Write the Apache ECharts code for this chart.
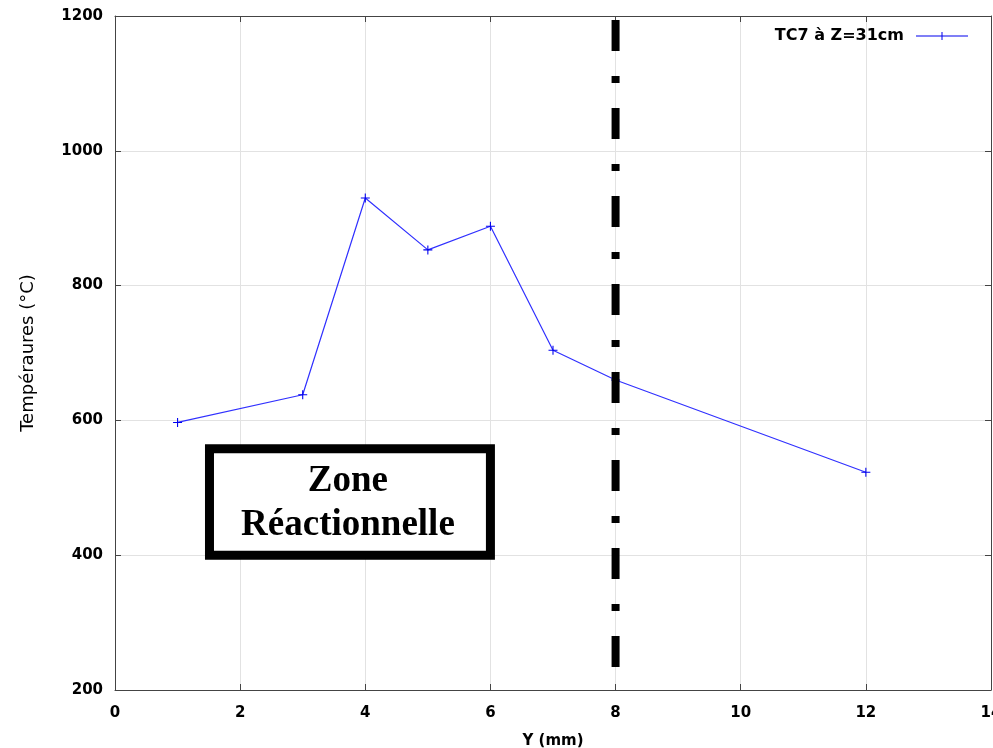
<!DOCTYPE html>
<html>
<head>
<meta charset="utf-8">
<script src="https://cdn.jsdelivr.net/npm/echarts@6/dist/echarts.min.js"></script>
<style>
  html, body { margin: 0; padding: 0; background: #fff; }
  #chart { width: 993px; height: 748px; }
</style>
</head>
<body>
<div id="chart"></div>
<script>
// Thermocouple TC7 readings along Y at Z = 31 cm
const positionsMm = [1, 3, 4, 5, 6, 7, 8, 12];
const temperatures = [597, 638, 930, 853, 888, 704, 660, 523];

// Boundary of the reaction zone (vertical dash-dot line)
const boundaryX = 8;
const boundaryRange = [1194, 232];

// Annotation box, in data units (stroke centreline)
const zoneBox = { x0: 1.51, x1: 6.0, y0: 400, y1: 558 };
const zoneLines = ['Zone', 'Réactionnelle'];

const xTicks = { min: 0, max: 14, step: 2 };
const yTicks = { min: 200, max: 1200, step: 200 };

const plainNumber = v => String(v);
const tickFont = { fontFamily: 'DejaVu Sans', fontWeight: 'bold', fontSize: 15, color: '#000' };
const gridColor = '#e2e2e2';
const frameColor = '#444';
const plusIcon = 'path://M4.4,0H5.6V10H4.4Z M0,4.4H10V5.6H0Z';
const legendIcon = 'path://M0,4.5H52V5.5H0Z M25.5,1H26.5V9H25.5Z';

const chart = echarts.init(document.getElementById('chart'), null, { renderer: 'canvas' });

const frameAxisCommon = {
  axisLine: { show: true, onZero: false, lineStyle: { color: frameColor, width: 1 } },
  axisTick: { show: true, inside: true, length: 6, lineStyle: { color: frameColor } },
  axisLabel: { show: false },
  splitLine: { show: false }
};

chart.setOption({
  animation: false,
  backgroundColor: '#fff',
  grid: { left: 115, right: 2, top: 16, bottom: 58, containLabel: false, outerBoundsMode: 'none' },
  legend: {
    show: true,
    right: 20,
    top: 23,
    align: 'right',
    itemWidth: 52,
    itemHeight: 10,
    textStyle: {
      fontFamily: 'DejaVu Sans', fontWeight: 'bold', fontSize: 16, color: '#000',
      padding: [0, 7, 0, 0]
    },
    data: [{ name: 'TC7 à Z=31cm', icon: legendIcon }]
  },
  xAxis: [
    {
      type: 'value',
      position: 'bottom',
      min: xTicks.min, max: xTicks.max, interval: xTicks.step,
      name: 'Y (mm)',
      nameLocation: 'middle',
      nameGap: 44,
      nameTextStyle: { fontFamily: 'DejaVu Sans', fontWeight: 'bold', fontSize: 15, color: '#000' },
      axisLine: { show: true, onZero: false, lineStyle: { color: frameColor, width: 1 } },
      axisTick: { show: true, inside: true, length: 6, lineStyle: { color: frameColor } },
      axisLabel: Object.assign({ margin: 16, showMaxLabel: true, formatter: plainNumber }, tickFont),
      splitLine: { show: true, lineStyle: { color: gridColor, width: 1 } }
    },
    Object.assign({
      type: 'value', position: 'top',
      min: xTicks.min, max: xTicks.max, interval: xTicks.step
    }, frameAxisCommon)
  ],
  yAxis: [
    {
      type: 'value',
      position: 'left',
      min: yTicks.min, max: yTicks.max, interval: yTicks.step,
      name: 'Tempéraures (°C)',
      nameLocation: 'middle',
      nameGap: 78,
      nameTextStyle: { fontFamily: 'DejaVu Sans', fontSize: 18, color: '#000' },
      axisLine: { show: true, onZero: false, lineStyle: { color: frameColor, width: 1 } },
      axisTick: { show: true, inside: true, length: 6, lineStyle: { color: frameColor } },
      axisLabel: Object.assign({ margin: 12, formatter: plainNumber }, tickFont),
      splitLine: { show: true, lineStyle: { color: gridColor, width: 1 } }
    },
    Object.assign({
      type: 'value', position: 'right',
      min: yTicks.min, max: yTicks.max, interval: yTicks.step
    }, frameAxisCommon)
  ],
  series: [
    {
      name: 'TC7 à Z=31cm',
      type: 'line',
      xAxisIndex: 0, yAxisIndex: 0,
      data: positionsMm.map((x, i) => [x, temperatures[i]]),
      symbol: plusIcon,
      symbolSize: 9,
      showSymbol: true,
      lineStyle: { color: '#3030ff', width: 1.2 },
      itemStyle: { color: '#0000ee' },
      z: 3
    },
    {
      name: 'boundary',
      type: 'line',
      xAxisIndex: 0, yAxisIndex: 0,
      data: boundaryRange.map(v => [boundaryX, v]),
      symbol: 'none',
      lineStyle: { color: '#000', width: 8, type: [31, 25, 7, 25], cap: 'butt' },
      silent: true,
      z: 4
    }
  ]
});

// Annotation box and its caption, placed through the axis scales
const p0 = chart.convertToPixel({ xAxisIndex: 0, yAxisIndex: 0 }, [zoneBox.x0, zoneBox.y1]);
const p1 = chart.convertToPixel({ xAxisIndex: 0, yAxisIndex: 0 }, [zoneBox.x1, zoneBox.y0]);
const cx = (p0[0] + p1[0]) / 2 - 2;
const cy = (p0[1] + p1[1]) / 2;
const captionFont = { fontFamily: 'Liberation Serif', fontWeight: 'bold', fontSize: 37, fill: '#000' };

chart.setOption({
  graphic: [
    {
      type: 'rect',
      shape: { x: p0[0], y: p0[1], width: p1[0] - p0[0], height: p1[1] - p0[1] },
      style: { fill: '#fff', stroke: '#000', lineWidth: 9 },
      z: 10
    },
    {
      type: 'text',
      x: cx, y: cy - 21,
      style: Object.assign({ text: zoneLines[0], align: 'center', verticalAlign: 'middle' }, captionFont),
      z: 11
    },
    {
      type: 'text',
      x: cx, y: cy + 23,
      style: Object.assign({ text: zoneLines[1], align: 'center', verticalAlign: 'middle' }, captionFont),
      z: 11
    }
  ]
});
</script>
</body>
</html>
